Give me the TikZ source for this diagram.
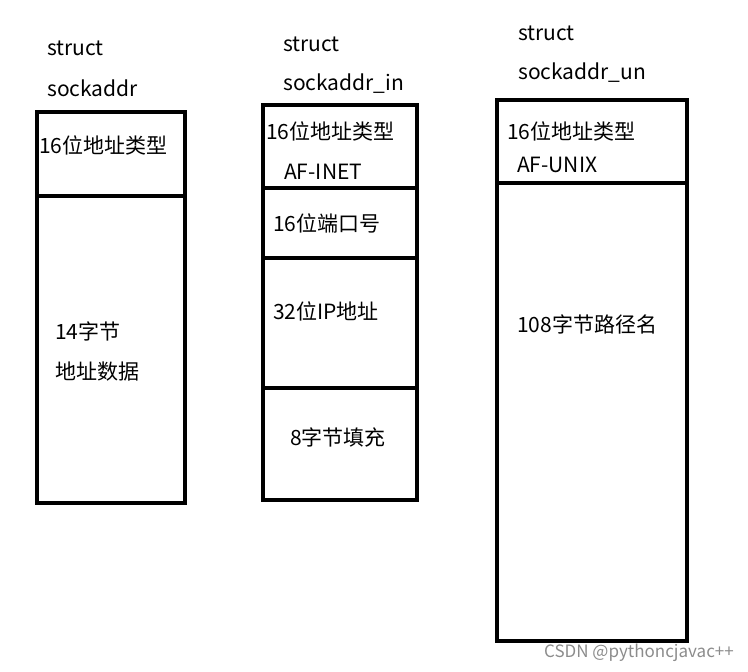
\documentclass[tikz,border=0pt]{standalone}
\usepackage{fontspec}
\setmainfont{Noto Sans CJK SC}
\begin{document}
\begin{tikzpicture}[x=1pt,y=-1pt,
  box/.style={draw,line width=4pt},
  lbl/.style={anchor=west,inner sep=0pt,font=\fontsize{21}{24}\selectfont},
  clbl/.style={inner sep=0pt,font=\fontsize{21}{24}\selectfont}]
\useasboundingbox (0,0) rectangle (748,672);
% box 1
\node[lbl] (s1a) at (47,48) {struct};
\node[lbl] (s1b) at (47,88) {sockaddr};
\draw[box] (37,112) rectangle (185,503);
\draw[box] (37,196) -- (185,196);
\node[lbl] (t11) at (39,145) {16位地址类型};
\node[lbl] (t12) at (55,331) {14字节};
\node[lbl] (t13) at (55,372) {地址数据};
% box 2
\node[lbl] (s2a) at (283,44) {struct};
\node[lbl] (s2b) at (283,84) {sockaddr\_in};
\draw[box] (263,105) rectangle (417,500);
\draw[box] (263,188) -- (417,188);
\draw[box] (263,258) -- (417,258);
\draw[box] (263,388) -- (417,388);
\node[lbl] (t21) at (266,131) {16位地址类型};
\node[lbl] (t22) at (284,172) {AF-INET};
\node[lbl] (t23) at (273,223) {16位端口号};
\node[lbl] (t24) at (273,311) {32位IP地址};
\node[clbl] (t25) at (338,437) {8字节填充};
% box 3
\node[lbl] (s3a) at (518,33) {struct};
\node[lbl] (s3b) at (518,73) {sockaddr\_un};
\draw[box] (497,100) rectangle (687,641);
\draw[box] (497,183) -- (687,183);
\node[lbl] (t31) at (507,131) {16位地址类型};
\node[lbl] (t32) at (517,165) {AF-UNIX};
\node[lbl] (t33) at (517,324) {108字节路径名};
\node[anchor=east,inner sep=0pt,text=black!45,font=\fontsize{17}{20}\selectfont] (wm) at (734,653) {CSDN @pythoncjavac++};
\end{tikzpicture}
\end{document}
